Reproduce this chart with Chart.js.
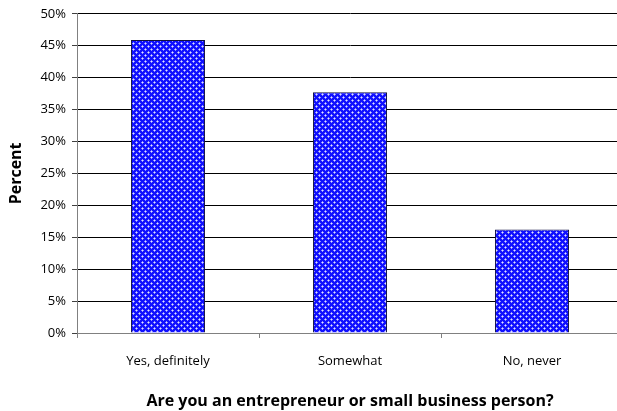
<!DOCTYPE html>
<html>
<head>
<meta charset="utf-8">
<script src="https://cdn.jsdelivr.net/npm/chart.js@4"></script>
<style>
  html, body { margin: 0; padding: 0; background: #fff; overflow: hidden; }
  #wrap { position: relative; width: 630px; height: 411px; }
</style>
</head>
<body>
<div id="wrap"><canvas id="chart"></canvas></div>
<script>
// ── Data ────────────────────────────────────────────────
const categories = ["Yes, definitely", "Somewhat", "No, never"];
const percents   = [45.9, 37.7, 16.2];
const yTicks     = [0, 5, 10, 15, 20, 25, 30, 35, 40, 45, 50];

const FONT = "'Open Sans', 'DejaVu Sans', sans-serif";

// ── Blue checker fill ───────────────────────────────────
function makePattern() {
  const c = document.createElement("canvas");
  c.width = 6;
  c.height = 6;
  const g = c.getContext("2d");
  g.fillStyle = "#1010ff";
  g.fillRect(0, 0, 6, 6);
  g.fillStyle = "#8c8cff";
  [[0, 1], [1, 0], [2, 1], [1, 2], [3, 4], [4, 3], [5, 4], [4, 5]].forEach(([x, y]) => g.fillRect(x, y, 1, 1));
  g.fillStyle = "#e0e0ff";
  g.fillRect(1, 1, 1, 1);
  g.fillRect(4, 4, 1, 1);
  return g.createPattern(c, "repeat");
}

const ctx = document.getElementById("chart").getContext("2d");

new Chart(ctx, {
  type: "bar",
  data: {
    labels: categories,
    datasets: [{
      data: percents,
      backgroundColor: makePattern(),
      borderColor: "#101040",
      borderWidth: 1,
      categoryPercentage: 1,
      barPercentage: 0.407
    }]
  },
  options: {
    responsive: true,
    maintainAspectRatio: false,
    animation: false,
    layout: { padding: { top: 13, right: 7, left: 0, bottom: 0 } },
    plugins: { legend: { display: false }, tooltip: { enabled: false } },
    scales: {
      x: {
        grid: { display: true, drawOnChartArea: false, offset: true, color: "#808080", tickLength: 5 },
        border: { color: "#808080", width: 1 },
        ticks: { color: "#000", padding: 15, font: { family: FONT, size: 13 } },
        title: {
          display: true,
          text: "Are you an entrepreneur or small business person?",
          color: "#000",
          font: { family: FONT, size: 16, weight: "bold" },
          padding: { top: 11, bottom: 0 }
        },
        afterFit: (s) => { s.height = 78; }
      },
      y: {
        min: 0,
        max: 50,
        afterBuildTicks: (s) => { s.ticks = yTicks.map((v) => ({ value: v })); },
        grid: { color: "#000", tickColor: "#404040", tickLength: 5 },
        border: { color: "#808080", width: 1 },
        ticks: {
          color: "#000",
          padding: 6,
          font: { family: FONT, size: 13 },
          callback: (v) => v + "%"
        },
        title: {
          display: true,
          text: "Percent",
          color: "#000",
          font: { family: FONT, size: 16, weight: "bold" },
          padding: { top: 7, bottom: 0 }
        },
        afterFit: (s) => { s.width = 77; }
      }
    }
  }
});
</script>
</body>
</html>
